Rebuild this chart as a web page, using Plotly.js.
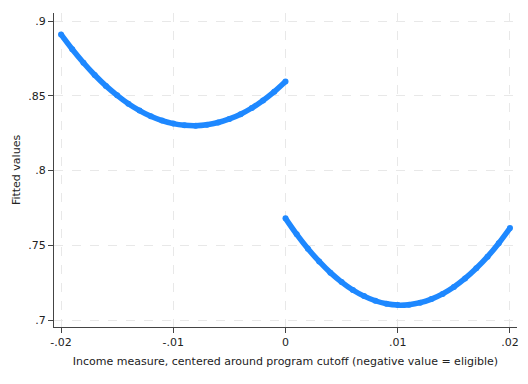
<!DOCTYPE html>
<html>
<head>
<meta charset="utf-8">
<script src="https://cdn.plot.ly/plotly-3.0.1.min.js"></script>
<style>html,body{margin:0;padding:0;background:#fff;}#chart{width:528px;height:384px;}</style>
</head>
<body>
<div id="chart"></div>
<script>
// Left of cutoff (eligible)
var xLeft = [-0.020,-0.019,-0.018,-0.017,-0.016,-0.015,-0.014,-0.013,-0.012,-0.011,-0.010,-0.009,-0.008,-0.007,-0.006,-0.005,-0.004,-0.003,-0.002,-0.001,0.000];
var yLeft = [0.8910,0.8811,0.8721,0.8639,0.8566,0.8503,0.8447,0.8401,0.8363,0.8334,0.8314,0.8303,0.8300,0.8306,0.8321,0.8345,0.8377,0.8418,0.8468,0.8527,0.8595];
// Right of cutoff
var xRight = [0.000,0.001,0.002,0.003,0.004,0.005,0.006,0.007,0.008,0.009,0.010,0.011,0.012,0.013,0.014,0.015,0.016,0.017,0.018,0.019,0.020];
var yRight = [0.7680,0.7573,0.7477,0.7392,0.7317,0.7254,0.7201,0.7160,0.7129,0.7109,0.7100,0.7103,0.7116,0.7140,0.7175,0.7221,0.7278,0.7346,0.7424,0.7514,0.7615];

var xTickVals = [-0.02,-0.01,0,0.01,0.02];
var xTickText = ['-.02','-.01','0','.01','.02'];
var yTickVals = [0.7,0.75,0.8,0.85,0.9];
var yTickText = ['.7','.75','.8','.85','.9'];

var blue = '#1e88ff';
function tr(x,y){
  return {x:x,y:y,mode:'lines+markers',type:'scatter',
    line:{color:blue,width:5.5,shape:'spline'},
    marker:{color:blue,size:6},
    showlegend:false,hoverinfo:'skip'};
}
var data=[tr(xLeft,yLeft),tr(xRight,yRight)];
var font={family:'DejaVu Sans, sans-serif',size:11,color:'#222'};
var layout={
  width:528,height:384,
  margin:{l:54,r:11,t:13,b:57},
  paper_bgcolor:'#fff',plot_bgcolor:'#fff',
  font:font,
  xaxis:{range:[-0.020625,0.020625],tickvals:xTickVals,ticktext:xTickText,
    showline:true,linecolor:'#444',linewidth:1,ticks:'outside',ticklen:5,tickcolor:'#444',
    showgrid:true,gridcolor:'#e8e8e8',griddash:'dash',gridwidth:1,zeroline:false,
    tickfont:font,
    title:{text:'Income measure, centered around program cutoff (negative value = eligible)',font:font,standoff:9}},
  yaxis:{range:[0.69535,0.90535],tickvals:yTickVals,ticktext:yTickText,
    showline:true,linecolor:'#444',linewidth:1,ticks:'outside',ticklen:5,tickcolor:'#444',
    showgrid:true,gridcolor:'#e8e8e8',griddash:'dash',gridwidth:1,zeroline:false,
    tickfont:font,
    title:{text:'Fitted values',font:font,standoff:5}}
};
Plotly.newPlot('chart',data,layout,{displayModeBar:false,staticPlot:true});
</script>
</body>
</html>
